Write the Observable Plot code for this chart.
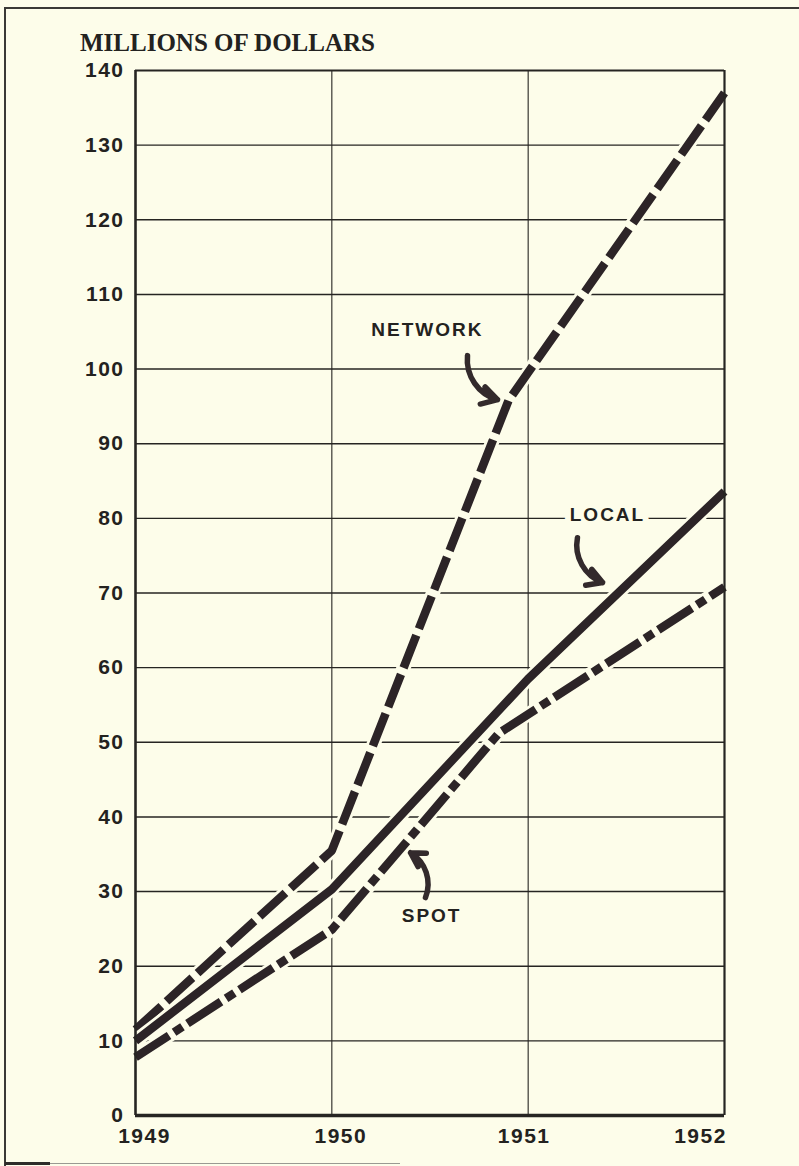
<!DOCTYPE html>
<html>
<head>
<meta charset="utf-8">
<script src="https://cdn.jsdelivr.net/npm/d3@7"></script>
<script src="https://cdn.jsdelivr.net/npm/@observablehq/plot@0.6"></script>
<style>
  html, body { margin: 0; padding: 0; background: #fdfdea; }
  #wrap { position: relative; width: 799px; height: 1166px; overflow: hidden; background: #fdfdea; }
  #frame { position: absolute; left: 4px; top: 7px; width: 900px; height: 1300px;
           border-top: 2px solid #3a3935; border-left: 2px solid #3a3935; pointer-events: none; }
  #foot1 { position: absolute; left: 5px; top: 1162px; width: 45px; height: 3px; background: #2e2d2a; }
  #foot2 { position: absolute; left: 50px; top: 1163px; width: 350px; height: 1px; background: #9a9a92; }
  #title { position: absolute; left: 80px; top: 30px; font-family: "Liberation Serif", "DejaVu Serif", serif;
           font-weight: bold; font-size: 25px; line-height: 25px; letter-spacing: 0px; color: #232220; white-space: nowrap; }
  #chart { position: absolute; left: 0; top: 0; }
  #chart svg text.tick { font-size: 21px !important; font-weight: bold; letter-spacing: 1.5px; }
</style>
</head>
<body>
<div id="wrap">
  <div id="chart"></div>
  <div id="frame"></div>
  <div id="foot1"></div>
  <div id="foot2"></div>
  <div id="title">MILLIONS OF DOLLARS</div>
</div>
<script>
// ---- data ----
const xTicks = [1949, 1950, 1951, 1952];
const yTicks = [0, 10, 20, 30, 40, 50, 60, 70, 80, 90, 100, 110, 120, 130, 140];

const networkYears  = [1949, 1950, 1950.9, 1952];
const networkValues = [11.5, 35.5, 95.8, 137];

const localYears  = [1949, 1950, 1951, 1952];
const localValues = [10, 30.3, 58.5, 83.6];

const spotYears  = [1949, 1950, 1950.85, 1952];
const spotValues = [7.8, 24.9, 51.2, 70.8];

const labelNames = ["NETWORK", "LOCAL", "SPOT"];
const labelX = [1950.487, 1951.404, 1950.508];
const labelY = [105.2, 80.4, 26.8];

const arrowX1 = [1950.691, 1951.251, 1950.477];
const arrowY1 = [101.8, 77.4, 29.2];
const arrowX2 = [1950.844, 1951.379, 1950.401];
const arrowY2 = [95.9, 71.4, 35.2];

// ---- build tables ----
const rows = (xs, ys) => xs.map((x, i) => ({x, y: ys[i]}));
const network = rows(networkYears, networkValues);
const local = rows(localYears, localValues);
const spot = rows(spotYears, spotValues);
const labels = labelNames.map((t, i) => ({t, x: labelX[i], y: labelY[i]}));
const arrows = arrowX1.map((x1, i) => ({x1, y1: arrowY1[i], x2: arrowX2[i], y2: arrowY2[i]}));

const bg = "#fdfdea";
const ink = "#2c2427";
const grid = "#262522";
const font = "Liberation Sans, Arial, sans-serif";

const seriesMarks = (data, dash) => [
  Plot.line(data, {x: "x", y: "y", stroke: bg, strokeWidth: 14, strokeLinecap: "butt", strokeLinejoin: "miter"}),
  Plot.line(data, {x: "x", y: "y", stroke: ink, strokeWidth: 8.5, strokeLinecap: "butt", strokeLinejoin: "miter",
                   strokeDasharray: dash})
];

const axisOpts = {tickSize: 0, label: null, fill: "#232220", tickFormat: d => String(d)};

const chart = Plot.plot({
  width: 799,
  height: 1166,
  marginLeft: 135,
  marginRight: 75,
  marginTop: 70,
  marginBottom: 51,
  x: {domain: [xTicks[0], xTicks[xTicks.length - 1]]},
  y: {domain: [yTicks[0], yTicks[yTicks.length - 1]]},
  style: {background: "transparent", fontFamily: font, fontWeight: "bold", color: "#232220", overflow: "visible"},
  marks: [
    // grid
    Plot.ruleY(yTicks.slice(1, -1), {stroke: grid, strokeWidth: 1.4}),
    Plot.ruleX(xTicks.slice(1, -1), {stroke: grid, strokeWidth: 1.1}),
    // series
    ...seriesMarks(network, "35,7"),
    ...seriesMarks(local, null),
    ...seriesMarks(spot, "40,6,10,6"),
    // frame
    Plot.ruleX([xTicks[0]], {stroke: grid, strokeWidth: 2.6}),
    Plot.ruleX([xTicks[xTicks.length - 1]], {stroke: grid, strokeWidth: 2.2}),
    Plot.ruleY([yTicks[0]], {stroke: grid, strokeWidth: 3.6}),
    Plot.ruleY([yTicks[yTicks.length - 1]], {stroke: grid, strokeWidth: 1.8}),
    // axes
    Plot.axisY(yTicks, {...axisOpts, tickPadding: 11}),
    Plot.axisX(xTicks.slice(0, 2), {...axisOpts, tickPadding: 13, dx: 9}),
    Plot.axisX(xTicks.slice(2, 3), {...axisOpts, tickPadding: 13, dx: -4}),
    Plot.axisX(xTicks.slice(3), {...axisOpts, tickPadding: 13, dx: -24}),
    // annotations
    Plot.text(labels, {x: "x", y: "y", text: "t", fontSize: 19, fontWeight: "bold", fill: "#232220",
                       stroke: bg, strokeWidth: 12, paintOrder: "stroke"}),
    Plot.arrow(arrows, {x1: "x1", y1: "y1", x2: "x2", y2: "y2", bend: -40, stroke: "#332a2c",
                        strokeWidth: 5.5, headLength: 16, headAngle: 60})
  ]
});

const svg = d3.select(chart);
svg.selectAll('g[aria-label*="axis"] text').classed("tick", true)
  .attr("font-size", 21).attr("font-family", font).attr("font-weight", "bold");
svg.selectAll('g[aria-label="text"] text').attr("letter-spacing", "2px");
document.getElementById("chart").appendChild(chart);
</script>
</body>
</html>
